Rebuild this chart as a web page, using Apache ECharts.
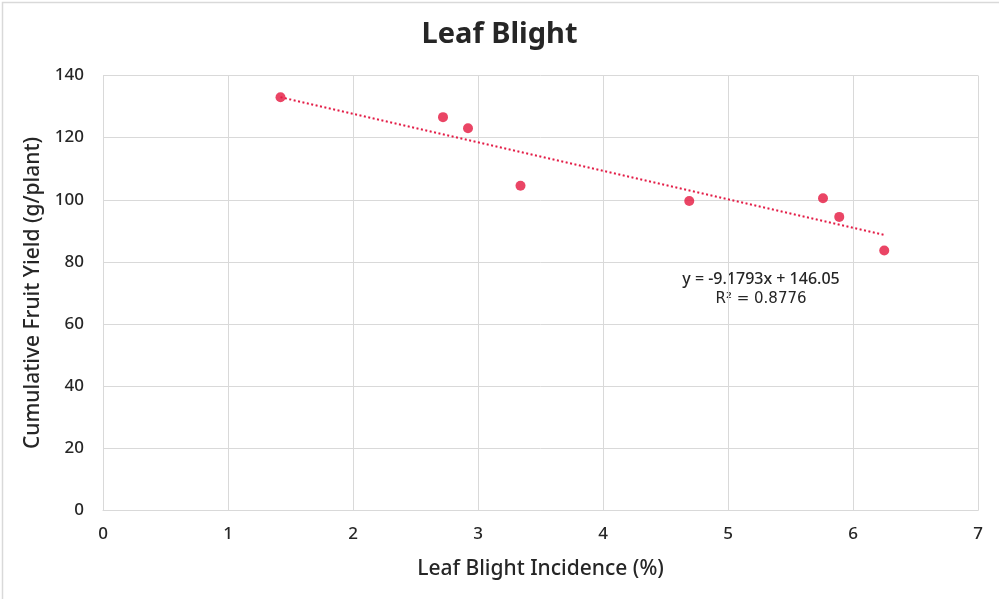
<!DOCTYPE html>
<html>
<head>
<meta charset="utf-8">
<script src="https://cdn.jsdelivr.net/npm/echarts@6/dist/echarts.min.js"></script>
<style>
html,body{margin:0;padding:0;background:#fff;}
#c{width:999px;height:599px;}
</style>
</head>
<body>
<div id="c"></div>
<script>
const incidence = [1.42, 2.72, 2.92, 3.34, 4.69, 5.76, 5.89, 6.25];
const yieldVals = [133.0, 126.6, 123.0, 104.5, 99.6, 100.5, 94.5, 83.7];
const slope = -9.1793;
const intercept = 146.05;
const eqText = 'y = -9.1793x + 146.05';
const r2Text = 'R² = 0.8776';

const points = incidence.map((x, i) => [x, yieldVals[i]]);
const xMin = Math.min(...incidence), xMax = Math.max(...incidence);
const trend = [[xMin, slope * xMin + intercept], [xMax, slope * xMax + intercept]];

const FONT = '"Noto Sans", Lato, sans-serif';
const TXT = '#262626';
const chart = echarts.init(document.getElementById('c'));
chart.setOption({
  animation: false,
  backgroundColor: '#fff',
  title: {
    text: 'Leaf Blight', left: 'center', top: 15,
    textStyle: { fontFamily: FONT, fontSize: 29, fontWeight: 'bold', color: TXT }
  },
  grid: { left: 103, right: 21, top: 75.5, bottom: 88.5, containLabel: false },
  xAxis: {
    type: 'value', min: 0, max: 7, interval: 1,
    name: 'Leaf Blight Incidence (%)', nameLocation: 'middle', nameGap: 48,
    nameTextStyle: { fontFamily: FONT, fontSize: 21, color: TXT, fontWeight: 500 },
    axisLine: { lineStyle: { color: '#d9d9d9', width: 1 } },
    axisTick: { show: false },
    axisLabel: { fontFamily: FONT, fontSize: 17, color: TXT, margin: 15, fontWeight: 500 },
    splitLine: { show: true, lineStyle: { color: '#d9d9d9', width: 1 } }
  },
  yAxis: {
    type: 'value', min: 0, max: 140, interval: 20,
    name: 'Cumulative Fruit Yield (g/plant)', nameLocation: 'middle', nameGap: 57,
    nameTextStyle: { fontFamily: FONT, fontSize: 21, color: TXT, fontWeight: 500 },
    axisLine: { show: true, lineStyle: { color: '#d9d9d9', width: 1 } },
    axisTick: { show: false },
    axisLabel: { fontFamily: FONT, fontSize: 17, color: TXT, margin: 19, fontWeight: 500 },
    splitLine: { show: true, lineStyle: { color: '#d9d9d9', width: 1 } }
  },
  series: [
    {
      type: 'line', data: trend, symbol: 'none', silent: true, z: 2,
      lineStyle: { color: '#e31c46', width: 2, type: [2, 2.5] }
    },
    {
      type: 'scatter', data: points, symbol: 'circle', symbolSize: 10, z: 3,
      itemStyle: { color: '#e5173f' }
    }
  ],
  graphic: [
    { type: 'rect', left: 0, top: 0, shape: { width: 998, height: 598 }, silent: true,
      style: { fill: 'none', stroke: '#d9d9d9', lineWidth: 1.5 } },
    { type: 'text', x: 761, y: 279, silent: true,
      style: { text: eqText, fontFamily: FONT, fontSize: 16, fontWeight: 500, fill: TXT, align: 'center', verticalAlign: 'middle' } },
    { type: 'text', x: 761, y: 299, silent: true,
      style: { text: r2Text, fontFamily: '"DejaVu Sans", sans-serif', fontSize: 15, fill: TXT, align: 'center', verticalAlign: 'middle' } }
  ]
});
</script>
</body>
</html>
